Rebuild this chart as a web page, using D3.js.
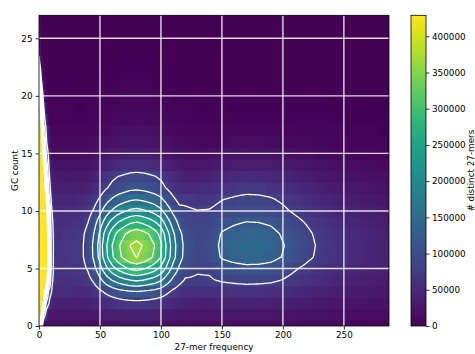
<!DOCTYPE html>
<html><head><meta charset="utf-8">
<script src="https://cdn.jsdelivr.net/npm/d3@7"></script>
<style>
body{margin:0;background:#fff}
svg{display:block}
text{font-family:"DejaVu Sans",sans-serif}
</style>
</head><body>
<svg id="chart" width="475" height="354"></svg>
<script>
// ---------- data ----------
// frequency positions (27-mer frequency) at which each GC row is sampled
const freqKeys = [0, 2, 4, 6, 8, 10, 12, 15, 25, 35, 40, 45, 50, 55, 60, 65, 70, 75, 80, 85, 90, 95, 100, 105, 110, 115, 120, 130, 140, 150, 160, 170, 180, 190, 200, 210, 220, 230, 250, 287];
const gcCounts = [0, 1, 2, 3, 4, 5, 6, 7, 8, 9, 10, 11, 12, 13, 14, 15, 16, 17, 18, 19, 20, 21, 22, 23, 24, 25, 26, 27];
// # distinct 27-mers, in thousands; one row per GC count, one column per freqKeys entry
const row00 = [600,100,18,17,17,17,17,17,17, 16,16,17,19,21,22,23,24,25,25,25,24,23,22,20,19,17,16, 15,15,16,15,15,15,14,14,13,13,12,10,8];
const row01 = [900,330,110,60,28,28,28,28,28, 28,27,28,31,33,36,37,39,40,40,39,39,38,36,33,30,28,27, 26,25,26,26,25,25,24,23,22,21,20,17,14];
const row02 = [1400,520,260,110,85,45,40,40,40, 38,39,43,48,55,60,64,67,69,70,69,67,64,61,54,48,44,41, 38,38,40,41,41,40,39,37,34,32,29,25,20];
const row03 = [1800,700,430,220,110,85,52,52,52, 51,53,62,74,87,98,107,113,118,120,117,113,108,100,87,73,64,57, 58,56,60,61,62,61,59,55,50,45,41,34,26];
const row04 = [2100,900,560,390,220,100,70,60,60, 61,69,86,111,139,162,179,192,202,207,202,193,181,165,138,111,91,77, 76,77,84,88,91,90,87,79,70,62,54,42,31];
const row05 = [2300,1000,680,465,290,120,75,64,66, 70,83,109,147,190,225,251,270,287,294,286,273,255,230,188,146,115,94, 84,85,100,106,110,109,105,95,83,72,62,48,35];
const row06 = [2400,1000,700,470,290,120,75,62,68, 75,93,126,174,229,274,307,331,352,361,350,334,311,280,226,174,135,108, 89,97,124,134,140,139,133,118,102,87,73,54,38];
const row07 = [2300,980,690,465,285,120,76,66,68, 75,94,128,178,234,280,314,339,361,370,359,342,319,286,231,178,137,110, 90,100,128,138,145,144,138,122,105,90,75,55,38];
const row08 = [2200,950,650,450,275,115,72,58,65, 73,90,121,167,219,262,293,316,336,345,335,319,298,267,217,167,130,105, 88,95,123,132,138,137,131,116,100,86,72,53,37];
const row09 = [2000,900,620,430,255,105,68,55,60, 66,79,104,141,182,216,241,259,275,282,274,262,244,221,180,141,111,92, 86,88,108,116,121,120,115,103,89,77,65,48,34];
const row10 = [1800,800,540,390,220,90,60,50,55, 58,66,84,110,140,164,183,196,207,212,206,197,185,168,139,111,90,86, 81,82,91,96,101,100,95,86,75,65,55,41,30];
const row11 = [1600,700,480,330,150,78,50,44,46, 48,53,66,85,106,124,137,146,155,158,154,147,139,127,106,86,71,72, 66,70,79,84,88,87,83,75,65,56,47,35,25];
const row12 = [1400,620,450,260,115,60,40,36,37, 37,41,50,62,77,89,98,104,110,112,109,105,99,91,77,64,54,48, 50,54,63,67,70,69,66,59,51,44,38,28,20];
const row13 = [1200,560,400,200,95,45,30,30,28, 30,32,40,50,62,73,80,85,90,92,90,86,81,74,62,51,43,37, 37,40,46,49,51,50,48,43,38,33,28,21,15];
const row14 = [1000,500,340,150,82,30,21,21,21, 21,22,27,33,40,46,51,54,57,58,57,54,51,47,40,34,29,25, 25,27,31,33,34,34,33,30,26,23,20,15,11];
const row15 = [850,470,270,115,70,20,15,15,15, 14,15,18,21,25,29,31,33,34,35,34,33,31,29,25,21,19,17, 16,17,20,21,22,21,21,19,17,15,13,10,8];
const row16 = [700,430,200,88,40,11,11,11,11, 10,11,13,15,18,20,22,23,24,25,24,24,22,21,18,15,13,12, 11,11,13,14,14,14,13,12,11,10,9,7,5];
const row17 = [580,380,140,75,30,8,8,8,8, 7,7,9,11,13,15,16,17,18,18,18,17,16,15,12,10,9,8, 7,7,9,9,9,9,9,8,7,6,6,5,3];
const row18 = [500,300,100,50,5,5,5,5,5, 4,5,6,7,8,10,11,11,12,12,12,11,11,10,8,7,6,5, 4,4,5,5,5,5,5,5,4,4,4,3,2];
const row19 = [460,230,80,20,4,4,4,4,4, 3,4,4,5,6,7,8,8,9,9,9,8,8,7,6,5,4,4, 3,3,4,3,3,3,3,3,3,3,3,2,2];
const row20 = [420,150,40,8,3,3,3,3,3, 2,2,3,4,4,5,5,6,6,6,6,6,5,5,4,3,3,3, 2,2,2,2,2,2,2,2,2,2,2,1,1];
const row21 = [300,95,15,2,2,2,2,2,2, 1,1,2,2,3,3,3,4,4,4,4,4,3,3,3,2,2,2, 1,1,1,1,1,1,1,1,1,1,1,1,1];
const row22 = [200,40,5,1,1,1,1,1,2, 1,1,1,1,2,2,2,2,3,3,3,2,2,2,2,2,1,1, 1,1,1,1,1,1,1,1,1,1,1,1,1];
const row23 = [100,10,1,1,1,1,1,1,1, 1,1,1,1,1,1,2,2,2,2,2,2,2,1,1,1,1,1, 1,1,1,1,1,1,1,1,1,1,1,1,0];
const row24 = [55,5,1,1,1,1,1,1,1, 1,1,1,1,1,1,1,1,1,1,1,1,1,1,1,1,1,1, 1,1,1,1,1,1,1,1,1,0,0,0,0];
const row25 = [40,3,1,1,1,1,1,1,1, 1,1,1,1,1,1,1,1,1,1,1,1,1,1,1,1,1,1, 0,0,0,0,0,0,0,0,0,0,0,0,0];
const row26 = [28,2,1,0,0,0,0,0,0, 0,0,0,0,0,0,0,0,0,0,0,0,0,0,0,0,0,0, 0,0,0,0,0,0,0,0,0,0,0,0,0];
const row27 = [20,1,0,0,0,0,0,0,0, 0,0,0,0,0,0,0,0,0,0,0,0,0,0,0,0,0,0, 0,0,0,0,0,0,0,0,0,0,0,0,0];
const kmersThousands = [row00,row01,row02,row03,row04,row05,row06,row07,row08,row09,row10,row11,row12,row13,row14,row15,row16,row17,row18,row19,row20,row21,row22,row23,row24,row25,row26,row27];

const contourLevels = [80000, 120000, 160000, 200000, 240000, 280000, 320000, 360000];
const colorMax = 429000;
const freqMax = 287;
const gcMax = 27;
const xTicks = [0, 50, 100, 150, 200, 250];
const yTicks = [0, 5, 10, 15, 20, 25];
const cbTicks = [0, 50000, 100000, 150000, 200000, 250000, 300000, 350000, 400000];
const xLabel = "27-mer frequency";
const yLabel = "GC count";
const cbLabel = "# distinct 27-mers";

// ---------- layout ----------
const FS = 8.8;
const svg = d3.select("#chart");
const defs = svg.append("defs");
const x = d3.scaleLinear().domain([0, freqMax]).range([39, 389]);
const y = d3.scaleLinear().domain([0, gcMax]).range([326, 15.3]);
const color = v => d3.interpolateViridis(Math.max(0, Math.min(1, v / colorMax)));

defs.append("clipPath").attr("id", "plotClip").append("rect")
  .attr("x", x(0)).attr("y", y(gcMax))
  .attr("width", x(freqMax) - x(0)).attr("height", y(0) - y(gcMax));

// linear reading between sampled frequencies (display resampling)
function readRow(row, f) {
  const n = freqKeys.length;
  if (f <= freqKeys[0]) return row[0];
  if (f >= freqKeys[n - 1]) return row[n - 1];
  const i = d3.bisectRight(freqKeys, f) - 1;
  const t = (f - freqKeys[i]) / (freqKeys[i + 1] - freqKeys[i]);
  return row[i] + t * (row[i + 1] - row[i]);
}
const fineFreq = d3.range(0, freqMax + 1);
const fineRows = kmersThousands.map(r => fineFreq.map(f => readRow(r, f) * 1000));

// ---------- heatmap ----------
const heat = svg.append("g").attr("clip-path", "url(#plotClip)");
gcCounts.forEach((g, j) => {
  const gid = "gcrow" + j;
  const grad = defs.append("linearGradient").attr("id", gid)
    .attr("gradientUnits", "userSpaceOnUse")
    .attr("x1", x(0)).attr("x2", x(freqMax)).attr("y1", 0).attr("y2", 0);
  fineFreq.forEach((f, i) => {
    grad.append("stop").attr("offset", f / freqMax).attr("stop-color", color(fineRows[j][i]));
  });
  const yb = y(Math.max(0, g - 0.5)) + 0.5;
  const yt = y(Math.min(gcMax, g + 0.5)) - 0.5;
  heat.append("rect")
    .attr("x", x(0)).attr("width", x(freqMax) - x(0))
    .attr("y", yt).attr("height", yb - yt)
    .attr("fill", `url(#${gid})`);
});

// ---------- grid ----------
const grid = svg.append("g").attr("clip-path", "url(#plotClip)")
  .attr("stroke", "#ffffff").attr("stroke-width", 1.4).attr("stroke-opacity", 0.85);
xTicks.filter(t => t > 0).forEach(t => {
  grid.append("line").attr("x1", x(t)).attr("x2", x(t)).attr("y1", y(0)).attr("y2", y(gcMax));
});
yTicks.filter(t => t > 0).forEach(t => {
  grid.append("line").attr("x1", x(0)).attr("x2", x(freqMax)).attr("y1", y(t)).attr("y2", y(t));
});

// ---------- contours ----------
const nx = fineFreq.length, ny = gcCounts.length;
const values = new Float64Array(nx * ny);
for (let j = 0; j < ny; j++) for (let i = 0; i < nx; i++) values[j * nx + i] = fineRows[j][i];
const contours = d3.contours().size([nx, ny]).thresholds(contourLevels)(values);
const proj = d3.geoTransform({
  point: function(px, py) { this.stream.point(x(fineFreq[0] + (px - 0.5)), y(gcCounts[0] + (py - 0.5))); }
});
const cpath = d3.geoPath(proj);
svg.append("g").attr("clip-path", "url(#plotClip)")
  .selectAll("path").data(contours).join("path")
  .attr("d", cpath)
  .attr("fill", "none").attr("stroke", "#ffffff").attr("stroke-width", 1.3)
  .attr("stroke-linejoin", "round");

// ---------- frame & axes ----------
svg.append("rect").attr("x", x(0)).attr("y", y(gcMax))
  .attr("width", x(freqMax) - x(0)).attr("height", y(0) - y(gcMax))
  .attr("fill", "none").attr("stroke", "#000").attr("stroke-width", 0.8);

function styleAxis(g) {
  g.select(".domain").remove();
  g.selectAll(".tick line").attr("stroke", "#000").attr("stroke-width", 0.8);
  g.selectAll(".tick text").attr("fill", "#000").attr("font-size", FS).attr("font-family", "DejaVu Sans");
}
svg.append("g").attr("transform", `translate(0,${y(0)})`)
  .call(d3.axisBottom(x).tickValues(xTicks).tickSize(3.5).tickPadding(2))
  .call(styleAxis);
svg.append("g").attr("transform", `translate(${x(0)},0)`)
  .call(d3.axisLeft(y).tickValues(yTicks).tickSize(3.5).tickPadding(3))
  .call(styleAxis);

svg.append("text").attr("x", (x(0) + x(freqMax)) / 2).attr("y", 350)
  .attr("text-anchor", "middle").attr("font-size", FS).attr("fill", "#000").text(xLabel);
svg.append("text").attr("transform", `translate(17.5,${(y(0) + y(gcMax)) / 2}) rotate(-90)`)
  .attr("text-anchor", "middle").attr("font-size", FS).attr("fill", "#000").text(yLabel);

// ---------- colorbar ----------
const cbX = 411, cbW = 15;
const cb = d3.scaleLinear().domain([0, colorMax]).range([326, 15.3]);
const cbGrad = defs.append("linearGradient").attr("id", "cbGrad")
  .attr("x1", 0).attr("y1", 1).attr("x2", 0).attr("y2", 0);
d3.range(0, 1.0001, 0.02).forEach(t => {
  cbGrad.append("stop").attr("offset", t).attr("stop-color", d3.interpolateViridis(t));
});
svg.append("rect").attr("x", cbX).attr("y", cb(colorMax)).attr("width", cbW)
  .attr("height", cb(0) - cb(colorMax)).attr("fill", "url(#cbGrad)")
  .attr("stroke", "#000").attr("stroke-width", 0.8);
svg.append("g").attr("transform", `translate(${cbX + cbW},0)`)
  .call(d3.axisRight(cb).tickValues(cbTicks).tickSize(3.5).tickPadding(2.5).tickFormat(d3.format("d")))
  .call(styleAxis);
svg.append("text").attr("transform", `translate(474,${(cb(0) + cb(colorMax)) / 2}) rotate(-90)`)
  .attr("text-anchor", "middle").attr("font-size", FS).attr("fill", "#000").text(cbLabel);
</script>
</body></html>
